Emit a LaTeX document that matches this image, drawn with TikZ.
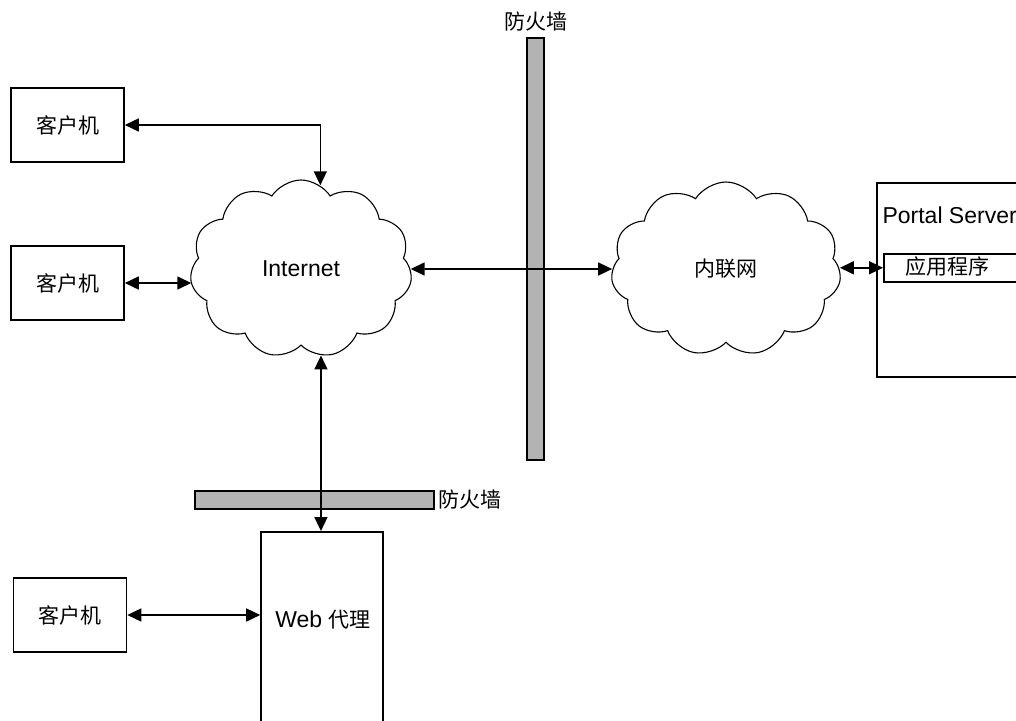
\documentclass[tikz,border=0pt]{standalone}
\usepackage{fontspec}
\setmainfont{Liberation Sans}
\newfontfamily\cjk{Noto Sans CJK SC}
\newcommand\zh{\cjk\fontsize{21}{25}\selectfont}
\usetikzlibrary{shapes.symbols,arrows.meta}
\definecolor{wallgray}{RGB}{179,179,179}

\tikzset{
	box/.style={draw,line width=1.6pt,minimum width=113,minimum height=74},
	wall/.style={draw,line width=1.6pt,fill=wallgray,inner sep=0},
	net/.style={cloud,draw,line width=1.1pt,cloud puffs=11,cloud puff arc=115,cloud ignores aspect},
	link/.style={line width=1.6pt,{Triangle[length=14pt,width=13pt]}-{Triangle[length=14pt,width=13pt]}}
}

\begin{document}
\begin{tikzpicture}[x=1pt,y=-1pt,font=\fontsize{23}{27}\selectfont]
		\useasboundingbox (0,0) rectangle (1016,720);
		\clip (0,0) rectangle (1016,720);
		
		% firewalls
		\node[wall,minimum width=17,minimum height=422] (fw1) at (535.5,249) {};
		\node[anchor=south,yshift=2pt] at (fw1.north) {\zh 防火墙};
		\node[wall,minimum width=239,minimum height=18] (fw2) at (314.5,500) {};
		\node[anchor=west] at (fw2.east) {\zh 防火墙};
		
		\node[box] (c1) at (67.5,125) {\zh 客户机};
		\node[box] (c2) at (67.5,283) {\zh 客户机};
		\node[box] (c3) at (70,615) {\zh 客户机};
		
		\node[net,minimum width=222,minimum height=178] (inet) at (301,269) {Internet};
		\node[net,minimum width=230,minimum height=174] (intra) at (726,269) {\zh 内联网};
		
		\node[box,anchor=north,minimum width=122,minimum height=220] (proxy) at (322,531) {};
		\node at (323,620) {Web \zh 代理};
		
		\node[box,anchor=north west,minimum width=200,minimum height=194] (portal) at (876,182) {};
		\node[anchor=west] at (879,215) {Portal Server};
		\node[box,anchor=north west,minimum width=200,minimum height=28] (app) at (883,253) {};
		\node[anchor=west] at (902,267) {\zh 应用程序};
		
		\draw[link] (c1.east) -| (inet.77);
		\draw[link] (c2.east) -- (c2.east -| inet.west);
		\draw[link] (inet.east) -- (intra.west);
		\draw[link] (intra.east |- app.west) -- (app.west);
		\draw[link] (inet.283) -- (inet.283 |- proxy.north);
		\draw[link] (c3.east) -- (c3.east -| proxy.west);
	\end{tikzpicture}
\end{document}
